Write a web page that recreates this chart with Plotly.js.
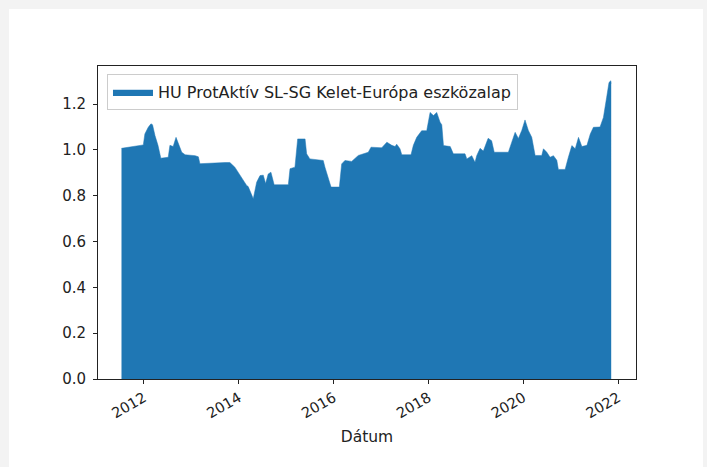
<!DOCTYPE html>
<html>
<head>
<meta charset="utf-8">
<script src="https://cdn.plot.ly/plotly-3.0.1.min.js"></script>
<style>
  html, body { margin: 0; padding: 0; background: #f3f3f3; width: 707px; height: 467px; overflow: hidden; }
  #chart { position: absolute; left: 9px; top: 9px; width: 694px; height: 458px; background: #fff; }
</style>
</head>
<body>
<div id="chart"></div>
<script>
const seriesName = "HU ProtAktív SL-SG Kelet-Európa eszközalap";
const dates = [
  "2011-07-12","2011-12-27","2012-01-08","2012-02-03","2012-02-24","2012-03-07","2012-03-26","2012-04-18",
  "2012-05-10","2012-07-06","2012-07-19","2012-08-13","2012-09-04","2012-09-21","2012-10-18","2012-11-13",
  "2013-01-29","2013-02-23","2013-03-07","2013-09-16","2013-10-24","2013-12-01","2014-01-10","2014-03-02",
  "2014-03-14","2014-04-22","2014-05-18","2014-06-13","2014-07-08","2014-07-26","2014-08-15","2014-09-05",
  "2014-09-30","2015-01-17","2015-01-30","2015-03-09","2015-03-30","2015-05-26","2015-06-07","2015-07-02",
  "2015-10-13","2015-10-26","2015-12-12","2016-02-14","2016-03-03","2016-03-28","2016-05-19","2016-07-09",
  "2016-09-24","2016-10-15","2016-12-24","2017-01-06","2017-02-14","2017-03-24","2017-04-18","2017-05-01",
  "2017-05-26","2017-06-09","2017-08-19","2017-09-06","2017-10-02","2017-11-09","2017-12-18","2018-01-13",
  "2018-02-08","2018-03-05","2018-03-31","2018-04-13","2018-04-26","2018-06-17","2018-07-11","2018-10-09",
  "2018-10-23","2018-11-30","2018-12-25","2019-01-07","2019-02-02","2019-02-27","2019-04-05","2019-05-02",
  "2019-05-22","2019-09-08","2019-10-04","2019-10-30","2019-11-24","2019-12-20","2020-01-14","2020-02-09",
  "2020-03-06","2020-04-01","2020-05-22","2020-06-04","2020-06-30","2020-07-25","2020-08-20","2020-09-15",
  "2020-09-27","2020-11-18","2020-12-13","2021-01-09","2021-02-04","2021-03-01","2021-03-27","2021-05-05",
  "2021-05-31","2021-06-24","2021-08-14","2021-09-09","2021-10-04","2021-10-22","2021-11-05","2021-11-08"
];
const values = [
  1.007,1.022,1.070,1.099,1.114,1.110,1.063,1.020,
  0.964,0.968,1.020,1.015,1.055,1.030,0.990,0.979,
  0.975,0.970,0.940,0.945,0.945,0.925,0.888,0.845,
  0.840,0.787,0.859,0.888,0.890,0.853,0.895,0.903,
  0.848,0.848,0.918,0.925,1.048,1.048,0.983,0.961,
  0.954,0.925,0.838,0.838,0.939,0.954,0.950,0.976,
  0.990,1.012,1.010,1.010,1.034,1.020,1.015,1.025,
  1.005,0.979,0.979,1.020,1.055,1.084,1.084,1.164,
  1.150,1.164,1.121,1.110,1.019,1.015,0.983,0.983,
  0.961,0.975,0.946,0.975,1.007,0.995,1.051,1.040,
  0.990,0.990,1.034,1.077,1.050,1.085,1.131,1.085,
  1.055,0.976,0.976,1.005,0.990,0.968,0.975,0.955,
  0.915,0.915,0.968,1.019,1.005,1.055,1.015,1.020,
  1.070,1.099,1.100,1.142,1.230,1.295,1.302,1.290
];
const yTicks = [0, 0.2, 0.4, 0.6, 0.8, 1.0, 1.2];
const xTicks = ["2012-01-01","2014-01-01","2016-01-01","2018-01-01","2020-01-01","2022-01-01"];
const xTickText = ["2012","2014","2016","2018","2020","2022"];

const fontFam = "DejaVu Sans, sans-serif";
const trace = {
  type: "scatter", mode: "lines", x: dates, y: values, name: seriesName,
  fill: "tozeroy", fillcolor: "#1f77b4",
  line: { color: "#1f77b4", width: 0.5 },
  showlegend: true
};
const layout = {
  width: 694, height: 458,
  margin: { l: 89, r: 67, t: 57, b: 88 },
  paper_bgcolor: "#ffffff", plot_bgcolor: "#ffffff",
  font: { family: fontFam, size: 15, color: "#222" },
  xaxis: {
    type: "date", range: ["2011-01-12", "2022-05-18"],
    tickvals: xTicks, ticktext: xTickText, tickangle: -30,
    ticks: "outside", ticklen: 4, tickwidth: 1, tickcolor: "#222",
    showline: true, linecolor: "#222", linewidth: 1, mirror: true,
    showgrid: false, zeroline: false,
    tickfont: { size: 14.5 },
    title: { text: "Dátum", font: { size: 15.5 }, standoff: 10 },
    automargin: false
  },
  yaxis: {
    range: [0, 1.3665], tickvals: yTicks, ticktext: yTicks.map(v => v.toFixed(1)),
    ticks: "outside", ticklen: 4, tickwidth: 1, tickcolor: "#222",
    showline: true, linecolor: "#222", linewidth: 1, mirror: true,
    showgrid: false, zeroline: false, automargin: false,
    tickfont: { size: 15 }, ticklabelstandoff: 4
  },
  showlegend: true,
  legend: {
    x: 0.0167, y: 0.974, xanchor: "left", yanchor: "top",
    bgcolor: "rgba(255,255,255,0.8)", bordercolor: "#cccccc", borderwidth: 1,
    font: { size: 16 }, itemwidth: 40
  }
};
Plotly.newPlot("chart", [trace], layout, { displayModeBar: false, staticPlot: true });
</script>
</body>
</html>
